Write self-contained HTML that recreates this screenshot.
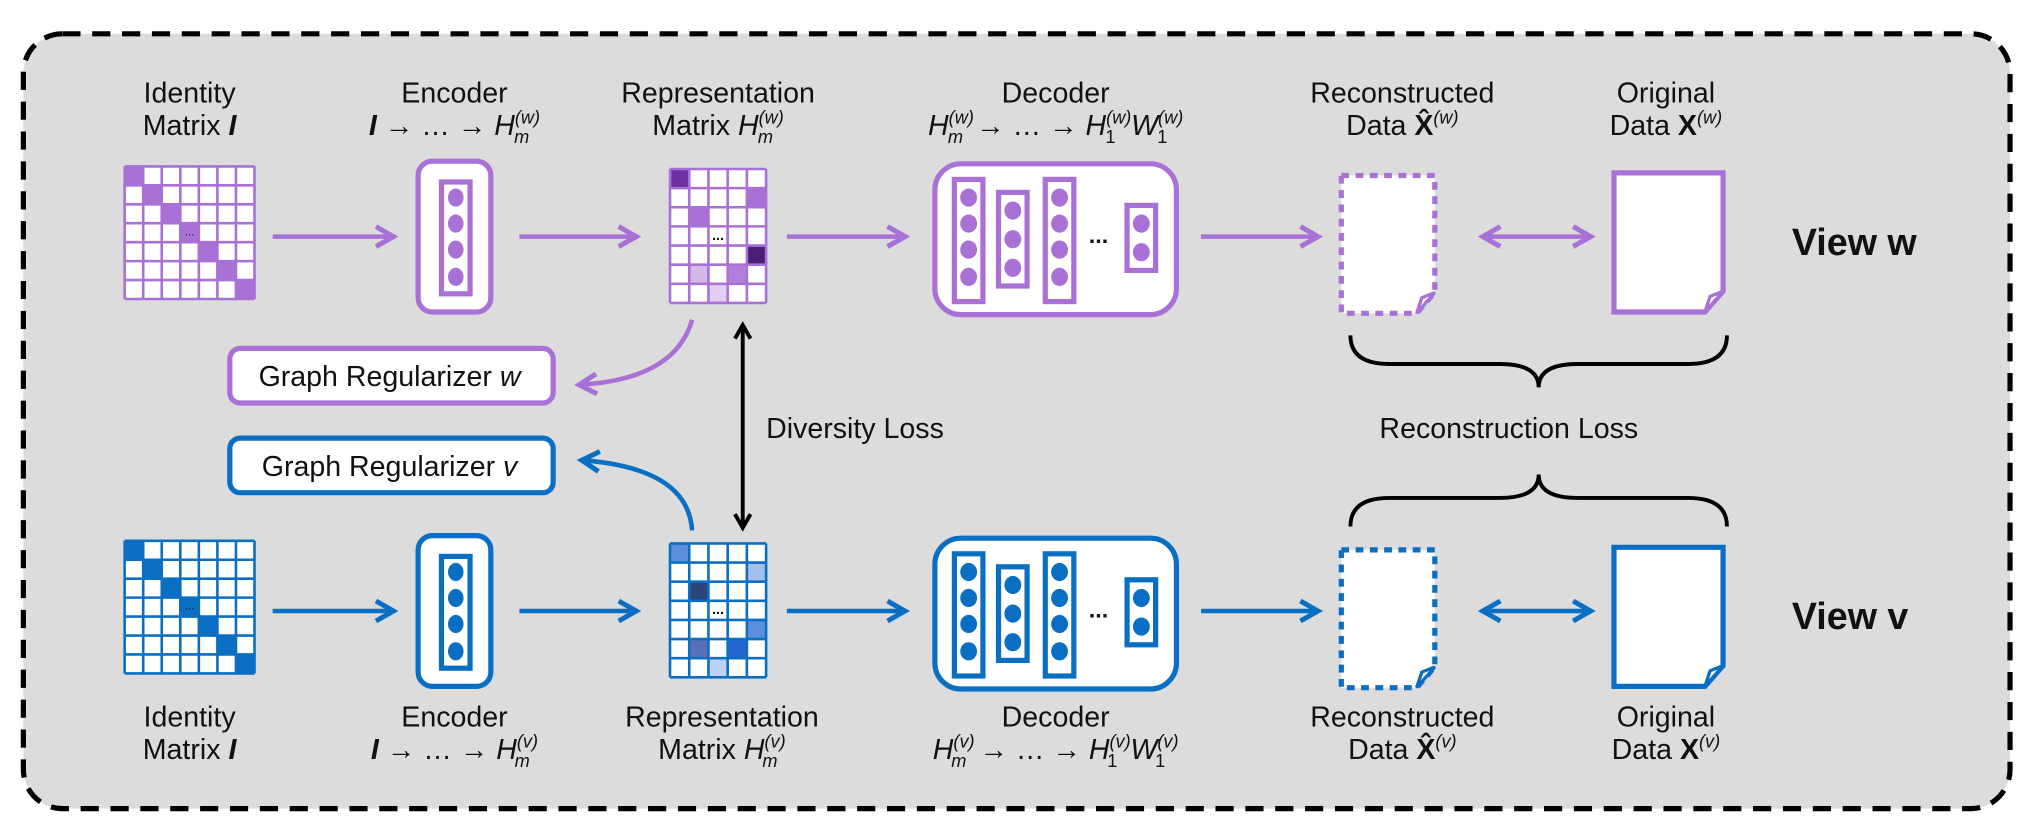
<!DOCTYPE html>
<html><head><meta charset="utf-8"><style>
html,body{margin:0;padding:0;background:#fff}
svg{display:block}
text{font-family:"Liberation Sans",sans-serif;fill:#111}
</style></head><body>
<svg id="s" width="2036" height="832" viewBox="0 0 1568 640" preserveAspectRatio="none" xmlns="http://www.w3.org/2000/svg">
<defs>
<marker id="ap" viewBox="0 0 10 10" refX="8" refY="5" markerWidth="5.5" markerHeight="5.5" orient="auto-start-reverse"><path d="M1,1 L8,5 L1,9" fill="none" stroke="#a970d6" stroke-width="2"/></marker>
<marker id="ab" viewBox="0 0 10 10" refX="8" refY="5" markerWidth="5.5" markerHeight="5.5" orient="auto-start-reverse"><path d="M1,1 L8,5 L1,9" fill="none" stroke="#0a6fc2" stroke-width="2"/></marker>
<marker id="ak" viewBox="0 0 10 10" refX="8" refY="5" markerWidth="5" markerHeight="5" orient="auto-start-reverse"><path d="M1,1 L8,5 L1,9" fill="none" stroke="#000" stroke-width="2"/></marker>
</defs>
<rect x="18" y="26" width="1530" height="596" rx="30" fill="#dcdcdc" stroke="#000" stroke-width="4" stroke-dasharray="14 9"/>
<g id="g"></g>

<g font-size="22" text-anchor="middle">
<text x="146" y="79">Identity</text>
<text x="146" y="104">Matrix <tspan font-weight="bold" font-style="italic">I</tspan></text>
<text x="350" y="79">Encoder</text>
<text x="350" y="104"><tspan font-weight="bold" font-style="italic">I</tspan> → … → <tspan font-style="italic">H</tspan><tspan font-size="14" font-style="italic" dy="-9">(w)</tspan><tspan font-size="14" font-style="italic" dx="-20" dy="15">m</tspan></text>
<text x="553" y="79">Representation</text>
<text x="553" y="104">Matrix <tspan font-style="italic">H</tspan><tspan font-size="14" font-style="italic" dy="-9">(w)</tspan><tspan font-size="14" font-style="italic" dx="-20" dy="15">m</tspan></text>
<text x="813" y="79">Decoder</text>
<text x="813" y="104"><tspan font-style="italic">H</tspan><tspan font-size="14" font-style="italic" dy="-9">(w)</tspan><tspan font-size="14" font-style="italic" dx="-20" dy="15">m</tspan><tspan dx="10" dy="-6">→ … → </tspan><tspan font-style="italic">H</tspan><tspan font-size="14" font-style="italic" dy="-9">(w)</tspan><tspan font-size="14" dx="-20" dy="15">1</tspan><tspan font-style="italic" dx="12" dy="-6">W</tspan><tspan font-size="14" font-style="italic" dy="-9">(w)</tspan><tspan font-size="14" dx="-20" dy="15">1</tspan></text>
<text x="1080" y="79">Reconstructed</text>
<text x="1080" y="104">Data <tspan font-weight="bold">X̂</tspan><tspan font-size="14" font-style="italic" dy="-9">(w)</tspan></text>
<text x="1283" y="79">Original</text>
<text x="1283" y="104">Data <tspan font-weight="bold">X</tspan><tspan font-size="14" font-style="italic" dy="-9">(w)</tspan></text>
<text x="146" y="559">Identity</text>
<text x="146" y="584">Matrix <tspan font-weight="bold" font-style="italic">I</tspan></text>
<text x="350" y="559">Encoder</text>
<text x="350" y="584"><tspan font-weight="bold" font-style="italic">I</tspan> → … → <tspan font-style="italic">H</tspan><tspan font-size="14" font-style="italic" dy="-9">(v)</tspan><tspan font-size="14" font-style="italic" dx="-18" dy="15">m</tspan></text>
<text x="556" y="559">Representation</text>
<text x="556" y="584">Matrix <tspan font-style="italic">H</tspan><tspan font-size="14" font-style="italic" dy="-9">(v)</tspan><tspan font-size="14" font-style="italic" dx="-18" dy="15">m</tspan></text>
<text x="813" y="559">Decoder</text>
<text x="813" y="584"><tspan font-style="italic">H</tspan><tspan font-size="14" font-style="italic" dy="-9">(v)</tspan><tspan font-size="14" font-style="italic" dx="-18" dy="15">m</tspan><tspan dx="10" dy="-6">→ … → </tspan><tspan font-style="italic">H</tspan><tspan font-size="14" font-style="italic" dy="-9">(v)</tspan><tspan font-size="14" dx="-18" dy="15">1</tspan><tspan font-style="italic" dx="10" dy="-6">W</tspan><tspan font-size="14" font-style="italic" dy="-9">(v)</tspan><tspan font-size="14" dx="-18" dy="15">1</tspan></text>
<text x="1080" y="559">Reconstructed</text>
<text x="1080" y="584">Data <tspan font-weight="bold">X̂</tspan><tspan font-size="14" font-style="italic" dy="-9">(v)</tspan></text>
<text x="1283" y="559">Original</text>
<text x="1283" y="584">Data <tspan font-weight="bold">X</tspan><tspan font-size="14" font-style="italic" dy="-9">(v)</tspan></text>
<text x="1162" y="337">Reconstruction Loss</text>
</g>
<text x="590" y="337" font-size="22">Diversity Loss</text>
<text x="1380" y="196" font-size="29" font-weight="bold">View w</text>
<text x="1380" y="484" font-size="29" font-weight="bold">View v</text>

<rect x="177" y="268" width="249" height="42" rx="8" fill="#fff" stroke="#a970d6" stroke-width="4"/>
<text x="300" y="297" font-size="22" text-anchor="middle">Graph Regularizer <tspan font-style="italic">w</tspan></text>
<rect x="177" y="337" width="249" height="42" rx="8" fill="#fff" stroke="#0a6fc2" stroke-width="4"/>
<text x="300" y="366" font-size="22" text-anchor="middle">Graph Regularizer <tspan font-style="italic">v</tspan></text>
<path d="M533,246 Q520,292 446,296" fill="none" stroke="#a970d6" stroke-width="3.5" marker-end="url(#ap)"/>
<path d="M533,408 Q530,360 448,354" fill="none" stroke="#0a6fc2" stroke-width="3.5" marker-end="url(#ab)"/>
<line x1="572" y1="250" x2="572" y2="406" stroke="#000" stroke-width="3" marker-start="url(#ak)" marker-end="url(#ak)"/>

<path d="M1040,258 Q1040,280 1070,280 H1155 Q1185,280 1185,298 Q1185,280 1215,280 H1300 Q1330,280 1330,258" fill="none" stroke="#000" stroke-width="3"/>
<path d="M1040,405 Q1040,383 1070,383 H1155 Q1185,383 1185,365 Q1185,383 1215,383 H1300 Q1330,383 1330,405" fill="none" stroke="#000" stroke-width="3"/>
</svg>
<script>
const NS="http://www.w3.org/2000/svg",G=document.getElementById('g');
function el(t,a){const e=document.createElementNS(NS,t);for(const k in a)e.setAttribute(k,a[k]);G.appendChild(e);return e;}
function row(dy,c,mk,fills){
 const x0=96,y0=128+dy,cw=100/7,ch=102/7;
 el('rect',{x:x0,y:y0,width:100,height:102,fill:'#fff'});
 for(let i=0;i<7;i++)el('rect',{x:x0+i*cw,y:y0+i*ch,width:cw,height:ch,fill:c});
 for(let i=0;i<=7;i++){el('line',{x1:x0+i*cw,y1:y0,x2:x0+i*cw,y2:y0+102,stroke:c,'stroke-width':2});el('line',{x1:x0,y1:y0+i*ch,x2:x0+100,y2:y0+i*ch,stroke:c,'stroke-width':2});}
 el('text',{x:x0+3*cw+cw/2,y:y0+3*ch+ch/2+2,'font-size':9,'text-anchor':'middle'}).textContent='...';
 const ay=182+dy;
 [[210,303],[400,490],[606,697],[925,1015]].forEach(a=>el('line',{x1:a[0],y1:ay,x2:a[1],y2:ay,stroke:c,'stroke-width':3.5,'marker-end':mk}));
 el('line',{x1:1142,y1:ay,x2:1225,y2:ay,stroke:c,'stroke-width':3.5,'marker-end':mk,'marker-start':mk});
 el('rect',{x:322,y:124+dy,width:56,height:116,rx:11,fill:'#fff',stroke:c,'stroke-width':4});
 el('rect',{x:340,y:140+dy,width:22,height:86,fill:'#fff',stroke:c,'stroke-width':4});
 [152,172,192,213].forEach(y=>el('ellipse',{cx:351,cy:y+dy,rx:6,ry:7,fill:c}));
 const rx=516,ry=130+dy,rw=74/5,rh=103/7;
 el('rect',{x:rx,y:ry,width:74,height:103,fill:'#fff'});
 fills.forEach(f=>el('rect',{x:rx+f[1]*rw,y:ry+f[0]*rh,width:rw,height:rh,fill:f[2]}));
 for(let i=0;i<=5;i++)el('line',{x1:rx+i*rw,y1:ry,x2:rx+i*rw,y2:ry+103,stroke:c,'stroke-width':2});
 for(let i=0;i<=7;i++)el('line',{x1:rx,y1:ry+i*rh,x2:rx+74,y2:ry+i*rh,stroke:c,'stroke-width':2});
 el('text',{x:rx+2.5*rw,y:ry+3.5*rh+3,'font-size':11,'text-anchor':'middle','font-weight':'bold'}).textContent='...';
 el('rect',{x:720,y:126+dy,width:186,height:116,rx:20,fill:'#fff',stroke:c,'stroke-width':4});
 const cols=[[746,138,94,[152,172,192,213]],[780,148,72,[162,184,206]],[816,138,94,[152,172,192,213]],[879,158,50,[172,194]]];
 cols.forEach(k=>{el('rect',{x:k[0]-11,y:k[1]+dy,width:22,height:k[2],fill:'#fff',stroke:c,'stroke-width':4});k[3].forEach(y=>el('ellipse',{cx:k[0],cy:y+dy,rx:6.5,ry:7,fill:c}));});
 el('text',{x:846,y:187+dy,'font-size':18,'text-anchor':'middle','font-weight':'bold',fill:c}).textContent='...';
 function doc(x,y,w,h,dash){
  el('path',{d:`M${x},${y} H${x+w} V${y+h-16} L${x+w-14},${y+h} H${x} Z`,fill:'#fff',stroke:c,'stroke-width':4,'stroke-dasharray':dash||'none'});
  el('path',{d:`M${x+w},${y+h-16} L${x+w-10},${y+h-12} L${x+w-14},${y+h} Z`,fill:'#fff',stroke:c,'stroke-width':2.5});
 }
 doc(1033,135+dy,72,106,'6 5');
 doc(1243,133+dy,84,107);
}
row(0,'#a970d6','url(#ap)',[[0,0,'#7030a0'],[1,4,'#a970d6'],[2,1,'#a970d6'],[4,4,'#4b1f78'],[5,1,'#d5b8ea'],[5,3,'#b27fdc'],[6,2,'#e2d0f2']]);
row(288,'#0a6fc2','url(#ab)',[[0,0,'#5b8fdc'],[1,4,'#a3c0ec'],[2,1,'#2d4478'],[4,4,'#5b8fdc'],[5,1,'#5870b8'],[5,3,'#2466d0'],[6,2,'#bcd2f0']]);
</script>
</body></html>
